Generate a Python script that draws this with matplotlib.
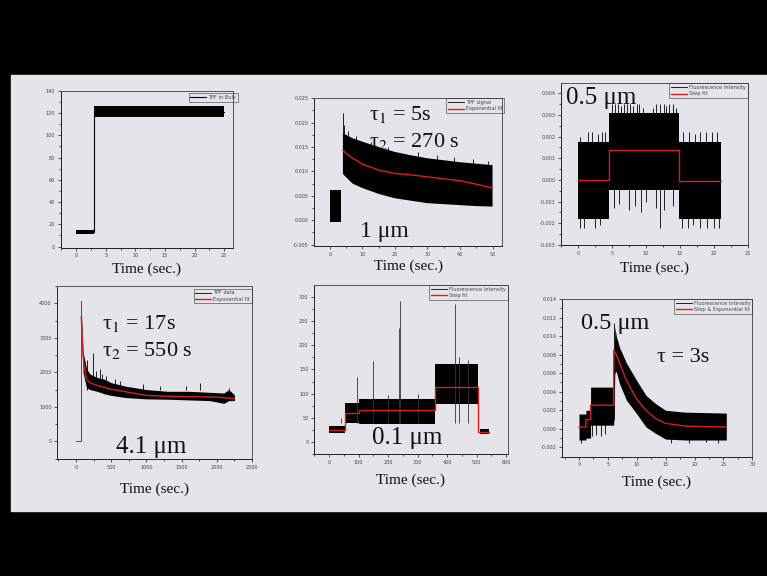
import numpy as np
import matplotlib
matplotlib.use("Agg")
import matplotlib.pyplot as plt
from matplotlib.patches import Rectangle
from matplotlib.ticker import AutoMinorLocator, FormatStrFormatter

plt.rcParams['font.family'] = ['Liberation Serif', 'DejaVu Serif']
plt.rcParams['mathtext.fontset'] = 'stix'

# ---- panel 1: TPF in bulk (noise band) ----
bulk_t = [0, 3, 3, 25]
bulk_lo = [11.5, 11.5, 116, 116]
bulk_hi = [15, 15, 126, 126]

# ---- panel 2: 1 um, TPF signal + exponential fit ----
tpf_t = [0, 3.5, 3.5, 4, 5, 7, 10, 15, 20, 25, 30, 35, 40, 45, 50]
tpf_lo = [-0.0003, -0.0003, np.nan, 0.0095, 0.0088, 0.0075, 0.0066, 0.0054, 0.0045, 0.0040, 0.0035, 0.0033, 0.0031, 0.0029, 0.0028]
tpf_hi = [0.0062, 0.0062, np.nan, 0.0178, 0.0175, 0.0168, 0.0161, 0.0150, 0.0140, 0.0133, 0.0127, 0.0123, 0.0119, 0.0116, 0.0113]
tpf_spk_x = [4.0, 4.3, 5.5, 8.0, 12.5, 18.0, 27.0, 33.0, 38.0, 44.0, 48.5]
tpf_spk_y = [0.0219, 0.0195, 0.0182, 0.0172, 0.0160, 0.0150, 0.0140, 0.0133, 0.0130, 0.0126, 0.0122]
fit2_t = [4, 5, 7, 10, 15, 20, 25, 30, 35, 40, 45, 50]
fit2_y = [0.0144, 0.0137, 0.0127, 0.0115, 0.0103, 0.0096, 0.0093, 0.0089, 0.0085, 0.0081, 0.0074, 0.0066]

# ---- panel 3: 0.5 um, step fit ----
st3_edges = [0, 4.5, 14.8, 21]
st3_fit = [0.0, 0.00137, -0.00005]
st3_lo = [-0.00178, -0.00045, -0.00178]
st3_hi = [0.00175, 0.0031, 0.00175]
st3_up_x = [0.3, 1.5, 2.0, 2.9, 3.5, 4.0, 5.0, 5.4, 5.9, 6.3, 6.8, 7.2, 7.7, 8.1, 8.6, 9.0, 9.5,
            11.0, 11.5, 12.0, 12.6, 13.0, 13.4, 14.0, 14.4, 15.5, 16.4, 17.2, 18.0, 18.9, 19.8, 20.5]
st3_up_y = [0.0020, 0.0022, 0.0022, 0.0021, 0.0022, 0.0022, 0.0035, 0.0035, 0.0035, 0.0034, 0.0035, 0.0035, 0.0035, 0.0034, 0.0035, 0.0035, 0.0033,
            0.0033, 0.0035, 0.0035, 0.0035, 0.0034, 0.0035, 0.0035, 0.0033, 0.0022, 0.0022, 0.0021, 0.0022, 0.0022, 0.0022, 0.0022]
st3_dn_x = [0.2, 0.8, 2.5, 3.2, 5.3, 6.0, 7.5, 8.3, 9.2, 10.0, 11.5, 12.0, 12.7, 14.0,
            15.3, 16.2, 17.0, 18.0, 19.0, 20.0, 20.8]
st3_dn_y = [-0.0022, -0.0022, -0.0022, -0.0021, -0.0013, -0.0011, -0.0014, -0.0012, -0.0015, -0.0010, -0.0013, -0.0022, -0.0014, -0.0012,
            -0.0022, -0.0022, -0.0021, -0.0022, -0.0022, -0.0022, -0.0022]

# ---- panel 4: 4.1 um, TPF data + exponential fit ----
base4_t = [0, 67, 67]
base4_y = [0, 0, 4077]
tpf4_t = [80, 100, 150, 200, 300, 400, 500, 700, 1000, 1300, 1600, 1900, 2100, 2170, 2250]
tpf4_lo = [3300, 2000, 1550, 1500, 1450, 1380, 1330, 1270, 1230, 1220, 1200, 1180, 1100, 1180, 1180]
tpf4_hi = [3700, 2600, 2100, 1950, 1850, 1800, 1700, 1600, 1500, 1450, 1450, 1420, 1400, 1500, 1350]
tpf4_spk_x = [150, 240, 290, 340, 370, 420, 560, 620, 950, 1200, 1560, 1760, 2170]
tpf4_spk_y = [2350, 2560, 2050, 2100, 1950, 1900, 1800, 1750, 1650, 1600, 1600, 1700, 1550]
fit4_t = [75, 90, 100, 120, 150, 200, 300, 500, 750, 1000, 1250, 1500, 1750, 2000, 2250]
fit4_y = [3600, 3000, 2500, 2100, 1800, 1700, 1620, 1510, 1420, 1330, 1310, 1300, 1290, 1280, 1240]

# ---- panel 5: 0.1 um, step fit ----
st5_edges = [0, 55, 100, 360, 505]
st5_fit = [25, 60, 66, 114, 22]
st5_end = 540
st5_lo = [18, 40, 38, 78, 17]
st5_hi = [33, 80, 88, 162, 28]
st5_spk_x = [40, 95, 148, 237, 240, 425, 300, 200, 440, 470]
st5_spk_y = [50, 135, 168, 235, 292, 285, 100, 98, 175, 170]

# ---- panel 6: 0.5 um, step & exponential fit ----
fit6_t = [0, 1.2, 1.2, 2.0, 2.0, 6.0, 6.0, 6.45, 8.16, 9.87, 11.6, 13.3, 15.0, 18.4, 25.5]
fit6_y = [0.0002, 0.0002, 0.0010, 0.0010, 0.00255, 0.00255, 0.0085, 0.0080, 0.0053, 0.0033, 0.0020, 0.0011, 0.0006, 0.0003, 0.0002]
band6_t = [0, 1.2, 1.2, 2.0, 2.0, 6.0, 6.0, 6.2, 6.45, 7.0, 8.2, 9.9, 11.6, 13.3, 15.0, 18.4, 25.5]
band6_lo = [-0.0012, -0.0012, -0.0010, -0.0010, 0.0004, 0.0004, 0.0004, 0.0060, 0.0062, 0.0049, 0.0031, 0.0017, 0.0002, -0.0005, -0.0011, -0.0012, -0.0012]
band6_hi = [0.0016, 0.0016, 0.0020, 0.0020, 0.0045, 0.0045, 0.0050, 0.0110, 0.0100, 0.0088, 0.0071, 0.0053, 0.0036, 0.0027, 0.0020, 0.0018, 0.0017]
spk6_x = [2.3, 3.0, 3.8, 4.5, 0.4, 6.1, 16.0, 19.0, 22.0, 24.0]
spk6_y = [-0.0008, -0.0007, -0.0008, -0.0006, -0.0015, 0.0114, -0.0015, -0.0015, -0.0014, -0.0015]

W, H = 767, 576
fig = plt.figure(figsize=(W / 100, H / 100), dpi=100, facecolor='black')
fig.patches.append(Rectangle((11 / W, 1 - 511 / H), 756 / W, 436 / H,
                             transform=fig.transFigure, color='#e5e5e9', zorder=-10))


def make_ax(x0, x1, y0, y1):
    ax = fig.add_axes([x0 / W, 1 - y1 / H, (x1 - x0) / W, (y1 - y0) / H])
    ax.set_facecolor('none')
    for s in ax.spines.values():
        s.set_color('#555555')
        s.set_linewidth(0.7)
    ax.spines['left'].set_color('#222222')
    ax.spines['bottom'].set_color('#222222')
    ax.tick_params(which='both', direction='out', top=False, right=False,
                   labelsize=3.5, labelcolor='#444444', color='#333333', width=0.6, pad=1.5)
    ax.tick_params(which='major', length=2.5)
    ax.tick_params(which='minor', length=1.5)
    ax.xaxis.set_minor_locator(AutoMinorLocator(2))
    ax.yaxis.set_minor_locator(AutoMinorLocator(2))
    return ax


def finish(ax, pad):
    ax.set_xlabel('Time (sec.)', fontsize=11, labelpad=pad, color='#111111')
    for lab in ax.get_xticklabels() + ax.get_yticklabels():
        lab.set_family('DejaVu Sans')


def legend(ax, handles, labels, anchor):
    lg = ax.legend(handles, labels, loc='upper right', bbox_to_anchor=anchor,
                   prop={'family': 'DejaVu Sans', 'size': 3.6}, frameon=True,
                   fancybox=False, edgecolor='#333333', facecolor='none',
                   borderpad=0.35, handlelength=3.2, labelspacing=0.25,
                   handletextpad=0.4, borderaxespad=0)
    lg.get_frame().set_linewidth(0.5)
    for t in lg.get_texts():
        t.set_color('#444444')


big = dict(color='#111111', zorder=5)

# panel 1
ax1 = make_ax(60.7, 233, 90.7, 247.7)
ax1.fill_between(bulk_t, bulk_lo, bulk_hi, color='black', lw=0)
l1, = ax1.plot(bulk_t, (np.array(bulk_lo) + np.array(bulk_hi)) / 2, color='black', lw=0.8)
ax1.set_xlim(-2.6, 26.5)
ax1.set_ylim(-1, 140)
ax1.set_xticks([0, 5, 10, 15, 20, 25])
ax1.set_yticks(range(0, 141, 20))
legend(ax1, [l1], ['TPF in Bulk'], (1.03, 0.985))
finish(ax1, 3)

# panel 2
ax2 = make_ax(314.3, 502.3, 98.3, 246.3)
ax2.fill_between(tpf_t, tpf_lo, tpf_hi, color='black', lw=0)
ax2.vlines(tpf_spk_x, 0.0100, tpf_spk_y, color='black', lw=0.6)
l2a, = ax2.plot([], [], color='black', lw=0.6)
l2b, = ax2.plot(fit2_t, fit2_y, color='#d81e1e', lw=1.0)
ax2.set_xlim(-4.8, 53)
ax2.set_ylim(-0.00534, 0.025)
ax2.set_xticks(range(0, 51, 10))
ax2.set_yticks(np.arange(-0.005, 0.0251, 0.005))
ax2.yaxis.set_major_formatter(FormatStrFormatter('%.3f'))
legend(ax2, [l2a, l2b], ['TPF signal', 'Exponential fit'], (1.01, 1.0))
ax2.text(0.29, 0.855, 'τ$_1$ = 5s', transform=ax2.transAxes, fontsize=16, **big)
ax2.text(0.29, 0.67, 'τ$_2$ = 270 s', transform=ax2.transAxes, fontsize=16, **big)
ax2.text(0.245, 0.06, '1 μm', transform=ax2.transAxes, fontsize=17, **big)
finish(ax2, 2)

# panel 3
ax3 = make_ax(560.7, 747.7, 83.3, 245)
for i in range(len(st3_fit)):
    ax3.fill_between(st3_edges[i:i + 2], st3_lo[i], st3_hi[i], color='black', lw=0)
ax3.vlines(st3_up_x, 0.0, st3_up_y, color='black', lw=0.6)
ax3.vlines(st3_dn_x, st3_dn_y, 0.0, color='black', lw=0.6)
l3a, = ax3.plot([], [], color='black', lw=0.6)
l3b, = ax3.step(st3_edges, st3_fit + [st3_fit[-1]], where='post', color='#d81e1e', lw=1.0)
ax3.set_xlim(-2.6, 25)
ax3.set_ylim(-0.00292, 0.00446)
ax3.set_xticks(range(0, 26, 5))
ax3.set_yticks(np.arange(-0.003, 0.0041, 0.001))
ax3.yaxis.set_major_formatter(FormatStrFormatter('%.3f'))
legend(ax3, [l3a, l3b], ['Fluorescence Intensity', 'Step fit'], (1.0, 1.0))
ax3.text(0.03, 0.87, '0.5 μm', transform=ax3.transAxes, fontsize=18, **big)
finish(ax3, 4)

# panel 4
ax4 = make_ax(57.3, 252, 286, 459.3)
ax4.plot(base4_t, base4_y, color='#333333', lw=0.6)
ax4.fill_between(tpf4_t, tpf4_lo, tpf4_hi, color='black', lw=0)
ax4.vlines(tpf4_spk_x, 1500, tpf4_spk_y, color='black', lw=0.6)
l4a, = ax4.plot([], [], color='black', lw=0.6)
l4b, = ax4.plot(fit4_t, fit4_y, color='#d81e1e', lw=1.0)
ax4.set_xlim(-265, 2500)
ax4.set_ylim(-520, 4500)
ax4.set_xticks(range(0, 2501, 500))
ax4.set_yticks(range(0, 4001, 1000))
legend(ax4, [l4a, l4b], ['TPF data', 'Exponential fit'], (1.0, 0.985))
ax4.text(0.23, 0.75, 'τ$_1$ = 17s', transform=ax4.transAxes, fontsize=16, **big)
ax4.text(0.23, 0.595, 'τ$_2$ = 550 s', transform=ax4.transAxes, fontsize=16, **big)
ax4.text(0.3, 0.035, '4.1 μm', transform=ax4.transAxes, fontsize=18, **big)
finish(ax4, 9)

# panel 5
ax5 = make_ax(314, 507.7, 285, 454.3)
ends5 = st5_edges[1:] + [st5_end]
for i in range(len(st5_fit)):
    x0 = st5_edges[i] + (5 if i == len(st5_fit) - 1 else 0)
    ax5.fill_between([x0, ends5[i]], st5_lo[i], st5_hi[i], color='black', lw=0)
ax5.vlines(st5_spk_x, 40, st5_spk_y, color='#333333', lw=0.6)
l5a, = ax5.plot([], [], color='black', lw=0.6)
l5b, = ax5.step(st5_edges + [st5_end], st5_fit + [st5_fit[-1]], where='post', color='#d81e1e', lw=1.0)
ax5.set_xlim(-51, 605)
ax5.set_ylim(-25, 324)
ax5.set_xticks(range(0, 601, 100))
ax5.set_yticks(range(0, 301, 50))
legend(ax5, [l5a, l5b], ['Fluorescence Intensity', 'Step fit'], (1.0, 1.0))
ax5.text(0.3, 0.06, '0.1 μm', transform=ax5.transAxes, fontsize=18, **big)
finish(ax5, 6)

# panel 6
ax6 = make_ax(561.7, 752.3, 299, 456.7)
ax6.fill_between(band6_t, band6_lo, band6_hi, color='black', lw=0)
ax6.vlines(spk6_x, 0.0010, spk6_y, color='black', lw=0.6)
l6a, = ax6.plot([], [], color='black', lw=0.6)
l6b, = ax6.plot(fit6_t, fit6_y, color='#d81e1e', lw=1.0)
ax6.set_xlim(-3, 29.8)
ax6.set_ylim(-0.003, 0.014)
ax6.set_xticks(range(0, 31, 5))
ax6.set_yticks(np.arange(-0.002, 0.0141, 0.002))
ax6.yaxis.set_major_formatter(FormatStrFormatter('%.3f'))
legend(ax6, [l6a, l6b], ['Fluorescence Intensity', 'Step & Exponential fit'], (1.0, 1.0))
ax6.text(0.1, 0.81, '0.5 μm', transform=ax6.transAxes, fontsize=17.5, **big)
ax6.text(0.5, 0.6, 'τ = 3s', transform=ax6.transAxes, fontsize=16, **big)
finish(ax6, 6)

fig.savefig('out.png', dpi=100, facecolor=fig.get_facecolor())
